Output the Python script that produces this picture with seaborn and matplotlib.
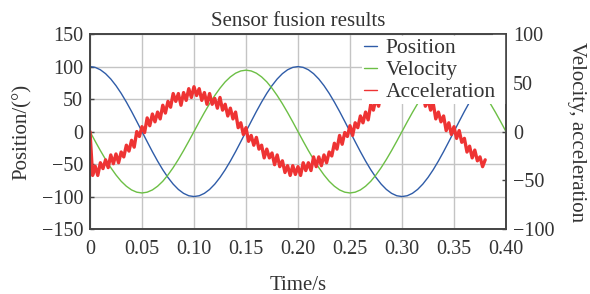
import numpy as np
import matplotlib
matplotlib.use("Agg")
import matplotlib.pyplot as plt
from matplotlib.patches import Rectangle
import seaborn as sns

# -----------------------------------
# Data
# -----------------------------------
# position (deg, left axis), sampled every 0.005 s
position = [100, 98.8, 95.1, 89.1, 80.9, 70.7, 58.8, 45.4, 30.9, 15.6,
            0, -15.6, -30.9, -45.4, -58.8, -70.7, -80.9, -89.1, -95.1, -98.8,
            -100, -98.8, -95.1, -89.1, -80.9, -70.7, -58.8, -45.4, -30.9, -15.6,
            0, 15.6, 30.9, 45.4, 58.8, 70.7, 80.9, 89.1, 95.1, 98.8,
            100, 98.8, 95.1, 89.1, 80.9, 70.7, 58.8, 45.4, 30.9, 15.6,
            0, -15.6, -30.9, -45.4, -58.8, -70.7, -80.9, -89.1, -95.1, -98.8,
            -100, -98.8, -95.1, -89.1, -80.9, -70.7, -58.8, -45.4, -30.9, -15.6,
            0, 15.6, 30.9, 45.4, 58.8, 70.7, 80.9, 89.1, 95.1, 98.8,
            100]

# velocity (right axis), sampled every 0.005 s
velocity = [0, -9.9, -19.5, -28.6, -37.0, -44.5, -51.0, -56.1, -59.9, -62.2,
            -63, -62.2, -59.9, -56.1, -51.0, -44.5, -37.0, -28.6, -19.5, -9.9,
            0, 9.9, 19.5, 28.6, 37.0, 44.5, 51.0, 56.1, 59.9, 62.2,
            63, 62.2, 59.9, 56.1, 51.0, 44.5, 37.0, 28.6, 19.5, 9.9,
            0, -9.9, -19.5, -28.6, -37.0, -44.5, -51.0, -56.1, -59.9, -62.2,
            -63, -62.2, -59.9, -56.1, -51.0, -44.5, -37.0, -28.6, -19.5, -9.9,
            0, 9.9, 19.5, 28.6, 37.0, 44.5, 51.0, 56.1, 59.9, 62.2,
            63, 62.2, 59.9, 56.1, 51.0, 44.5, 37.0, 28.6, 19.5, 9.9,
            0]

# noisy acceleration (right axis), sampled every 0.0025 s up to 0.38 s
acceleration = [0, -45, -35.5, -45, -32, -38, -29, -37, -24, -33,
                -23, -32, -21, -26, -14, -20, -9, -16, 0, -5,
                5, -1, 14, 6, 18, 10, 20, 13, 27, 19,
                31, 25, 39, 31, 39, 27, 40, 32, 44, 35,
                46, 37, 44, 32, 40, 28, 39, 28, 34, 24,
                35, 22, 28, 16, 24, 13, 20, 4, 9, -3,
                4, -10, -4, -14, -6, -18, -14, -27, -18, -27,
                -22, -34, -24, -36, -30, -42, -35, -45, -35, -44,
                -36, -45, -32, -40, -32, -40, -26, -36, -26, -35,
                -24, -32, -21, -25, -12, -18, -4, -13, -1, -5,
                6, -4, 9, 4, 16, 9, 20, 12, 28, 22,
                34, 26, 39, 31, 40, 30, 40, 34, 46, 34,
                41, 33, 43, 30, 40, 31, 41, 31, 39, 26,
                33, 22, 29, 13, 20, 10, 16, 1, 9, -3,
                5, -7, 1, -11, -7, -21, -15, -27, -19, -30,
                -26, -36, -29]

t_smooth = np.arange(len(position)) * 0.005
t_acc = np.arange(len(acceleration)) * 0.0025

x_ticks = [0, 0.05, 0.10, 0.15, 0.20, 0.25, 0.30, 0.35, 0.40]
x_tick_labels = ["0", "0.05", "0.10", "0.15", "0.20", "0.25", "0.30", "0.35", "0.40"]
left_ticks = [-150, -100, -50, 0, 50, 100, 150]
right_ticks = [-100, -50, 0, 50, 100]

BLUE = "#2f5ca8"
GREEN = "#6cbf45"
RED = "#ee3333"
TEXT = "#333333"

# -----------------------------------
# Style
# -----------------------------------
sns.set_style("white")
plt.rcParams["font.family"] = ["Liberation Serif", "DejaVu Serif"]
plt.rcParams["axes.unicode_minus"] = True

fig, ax = plt.subplots(figsize=(5.9, 2.94), dpi=100)
fig.subplots_adjust(left=0.1525, right=0.8576, bottom=0.221, top=0.884)
ax2 = ax.twinx()

# -----------------------------------
# Lines
# -----------------------------------
sns.lineplot(x=t_smooth, y=position, ax=ax, color=BLUE, lw=1.0, label="Position", legend=False)
sns.lineplot(x=t_smooth, y=velocity, ax=ax2, color=GREEN, lw=1.0, label="Velocity", legend=False)
sns.lineplot(x=t_acc, y=acceleration, ax=ax2, color=RED, lw=2.4,
             label="Acceleration", legend=False)

# -----------------------------------
# Axes
# -----------------------------------
ax.set_xlim(0, 0.40)
ax.set_ylim(-150, 150)
ax2.set_ylim(-100, 100)
ax.set_xticks(x_ticks)
ax.set_xticklabels(x_tick_labels)
ax.set_yticks(left_ticks)
ax2.set_yticks(right_ticks)

ax.grid(True, color="#c4c4c4", lw=1.0)
ax2.grid(False)

for a in (ax, ax2):
    for s in a.spines.values():
        s.set_color("#444444")
        s.set_linewidth(1.2)
    a.tick_params(direction="in", length=3, width=1, labelsize=14.5,
                  color="#444444", labelcolor=TEXT, pad=5)
ax.tick_params(axis="x", pad=8)

ax.set_xlabel("Time/s", fontsize=15, color=TEXT, labelpad=12)
ax.set_ylabel("Position/(°)", fontsize=15, color=TEXT, labelpad=7)
ax2.set_ylabel("Velocity, acceleration", fontsize=15, color=TEXT,
               rotation=270, labelpad=23)
ax.set_title("Sensor fusion results", fontsize=15, color=TEXT, pad=6)

# combined legend sits on the right axis so it covers the lines
h1, l1 = ax.get_legend_handles_labels()
h2, l2 = ax2.get_legend_handles_labels()
leg = ax2.legend(h1 + h2, l1 + l2, loc="upper right", bbox_to_anchor=(0.985, 1.0),
                 fontsize=15.5, frameon=True, framealpha=1, edgecolor="none",
                 fancybox=False, handlelength=0.6, handletextpad=0.4,
                 labelspacing=0.08, borderpad=0.1, borderaxespad=0.1)
for h in leg.legend_handles:
    h.set_linewidth(1.0)
for text in leg.get_texts():
    text.set_color(TEXT)

# white backing between the legend box and the right spine
fig.canvas.draw()
bb = leg.get_window_extent().transformed(ax2.transAxes.inverted())
ax2.add_patch(Rectangle((bb.x1 - 0.01, bb.y0), 1.01 - bb.x1, 1.0 - bb.y0,
                        transform=ax2.transAxes, facecolor="white",
                        edgecolor="none", zorder=2.2))

plt.savefig("out.png", dpi=100)
